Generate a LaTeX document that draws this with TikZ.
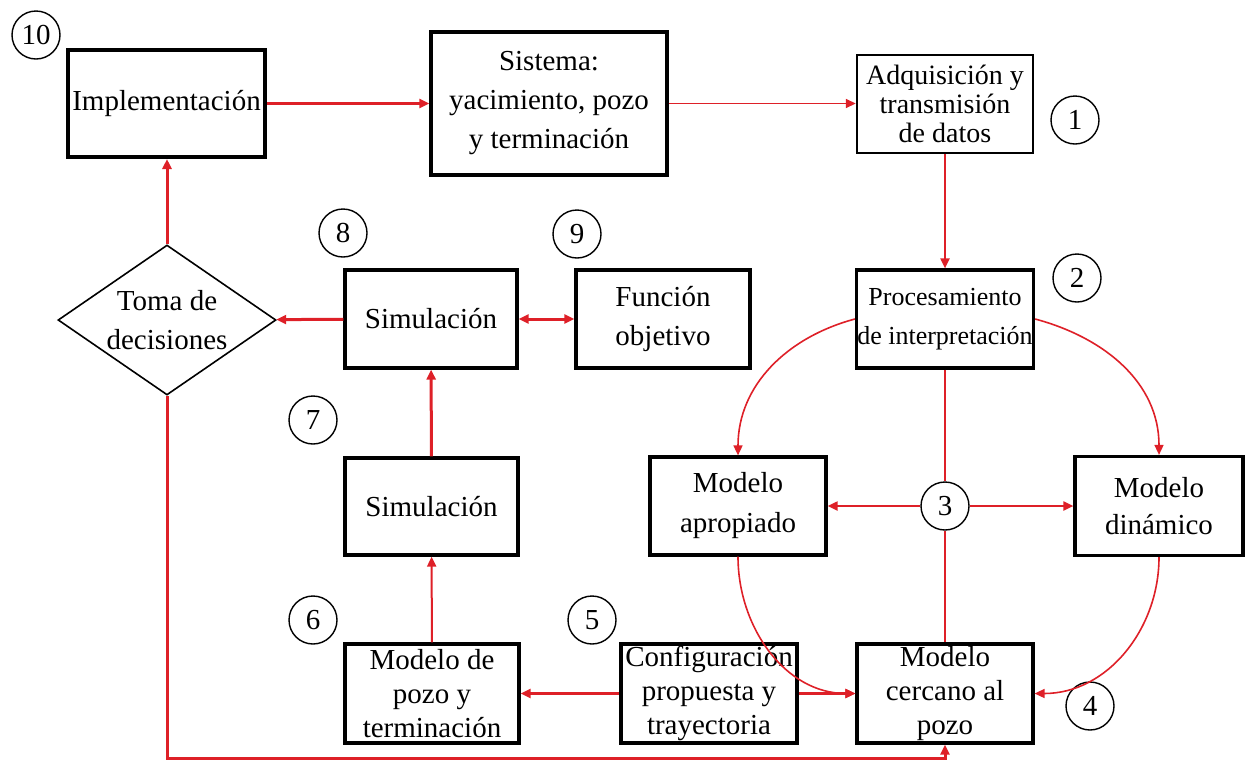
\documentclass[tikz,border=0pt]{standalone}
\usepackage{fontspec}
\setmainfont{Liberation Serif}
\usetikzlibrary{arrows.meta,shapes.geometric}
\definecolor{lred}{RGB}{222,32,40}
\begin{document}
\begin{tikzpicture}[x=0.5pt,y=-0.5pt,
  box/.style={draw, line width=1.6pt, align=center, inner sep=0pt,
    font=\fontsize{14.5}{19}\selectfont},
  dia/.style={diamond, draw, line width=0.8pt, aspect=1.45, inner sep=0pt,
    minimum width=109pt, minimum height=75pt, align=center,
    font=\fontsize{14.5}{19.5}\selectfont},
  num/.style={circle, draw, line width=0.7pt, minimum size=24pt, inner sep=0pt,
    font=\fontsize{14.5}{17}\selectfont},
  tip/.style={-{Triangle[length=5pt,width=4.5pt]}},
  thk/.style={draw=lred, line width=1.5pt},
  med/.style={draw=lred, line width=1pt},
  thn/.style={draw=lred, line width=0.8pt}]
\useasboundingbox (0,0) rectangle (1247,761);

% boxes
\node[box, line width=2pt, minimum width=98.5pt, minimum height=53.5pt] (impl) at (166.5,103.5) {Implementación};
\node[box, minimum width=118pt, minimum height=71.5pt, font=\fontsize{14.5}{19.5}\selectfont] (sis) at (549,103.5) {Sistema:\\yacimiento, pozo\\y terminación};
\node[box, line width=1.2pt, minimum width=88pt, minimum height=49pt, font=\fontsize{14}{14.5}\selectfont] (adq) at (945,104) {Adquisición y\\transmisión\\de datos};
\node[box, minimum width=88.5pt, minimum height=49pt, font=\fontsize{13}{19.5}\selectfont] (proc) at (945,319) {Procesamiento\\de interpretación};
\node[box, minimum width=86pt, minimum height=49pt] (sim1) at (431,319) {Simulación};
\node[box, minimum width=87pt, minimum height=49pt, font=\fontsize{14.5}{19.5}\selectfont] (func) at (663,319) {Función\\objetivo};
\node[box, minimum width=86.5pt, minimum height=48.5pt] (sim2) at (431.5,506.5) {Simulación};
\node[box, minimum width=88pt, minimum height=49pt, font=\fontsize{14.5}{20}\selectfont] (apro) at (738,506) {Modelo\\apropiado};
\node[box, minimum width=84pt, minimum height=49.5pt, font=\fontsize{14.5}{18.5}\selectfont] (din) at (1159,506) {Modelo\\dinámico};
\node[box, minimum width=88pt, minimum height=49.5pt, font=\fontsize{14.5}{17}\selectfont] (cerc) at (945,693.5) {Modelo\\cercano al\\pozo};
\node[box, minimum width=88pt, minimum height=49.5pt, font=\fontsize{14.5}{17}\selectfont] (conf) at (709,693.5) {Configuración\\propuesta y\\trayectoria};
\node[box, minimum width=87pt, minimum height=49.5pt, font=\fontsize{14.5}{17}\selectfont] (mpozo) at (432,693.5) {Modelo de\\pozo y\\terminación};
\node[dia] (dec) at (167,320) {Toma de\\decisiones};

% numbers
\node[num] (n10) at (36,35) {10};
\node[num] (n1) at (1075,120) {1};
\node[num] (n2) at (1077,278) {2};
\node[num] (n3) at (945,506) {3};
\node[num] (n4) at (1090,706) {4};
\node[num] (n5) at (592,620) {5};
\node[num] (n6) at (313,620) {6};
\node[num] (n7) at (313,420) {7};
\node[num] (n8) at (343,233) {8};
\node[num] (n9) at (577,234) {9};

% connectors
\draw[thk,tip] (impl) -- (sis);
\draw[thn,tip] (sis.east) -- (sis.east -| adq.west);
\draw[med,tip] (adq) -- (proc);
\draw[med] (proc) -- (n3);
\draw[med] (n3) -- (cerc);
\draw[med,tip] (n3) -- (apro);
\draw[med,tip] (n3) -- (din);
\draw[thn,tip] (proc.west) to[out=195,in=90] (apro.north);
\draw[thn,tip] (proc.east) to[out=-15,in=90] (din.north);
\draw[thn,tip] (apro.south) to[out=-90,in=180] (cerc.west);
\draw[thn,tip] (din.south) to[out=-90,in=0] (cerc.east);
\draw[thk,tip] (conf) -- (cerc);
\draw[thk,tip] (conf) -- (mpozo);
\draw[med,tip] (mpozo) -- (sim2);
\draw[thk,tip] (sim2) -- (sim1);
\draw[thk,{Triangle[length=5pt,width=4.5pt]}-{Triangle[length=5pt,width=4.5pt]}] (sim1) -- (func);
\draw[thk,tip] (sim1) -- (dec);
\draw[thk,tip] (dec.north) -- (dec.north |- impl.south);
\coordinate (loop) at (945,758);
\draw[thk,tip] (dec.south) |- (loop) -- (cerc.south);
\end{tikzpicture}
\end{document}
